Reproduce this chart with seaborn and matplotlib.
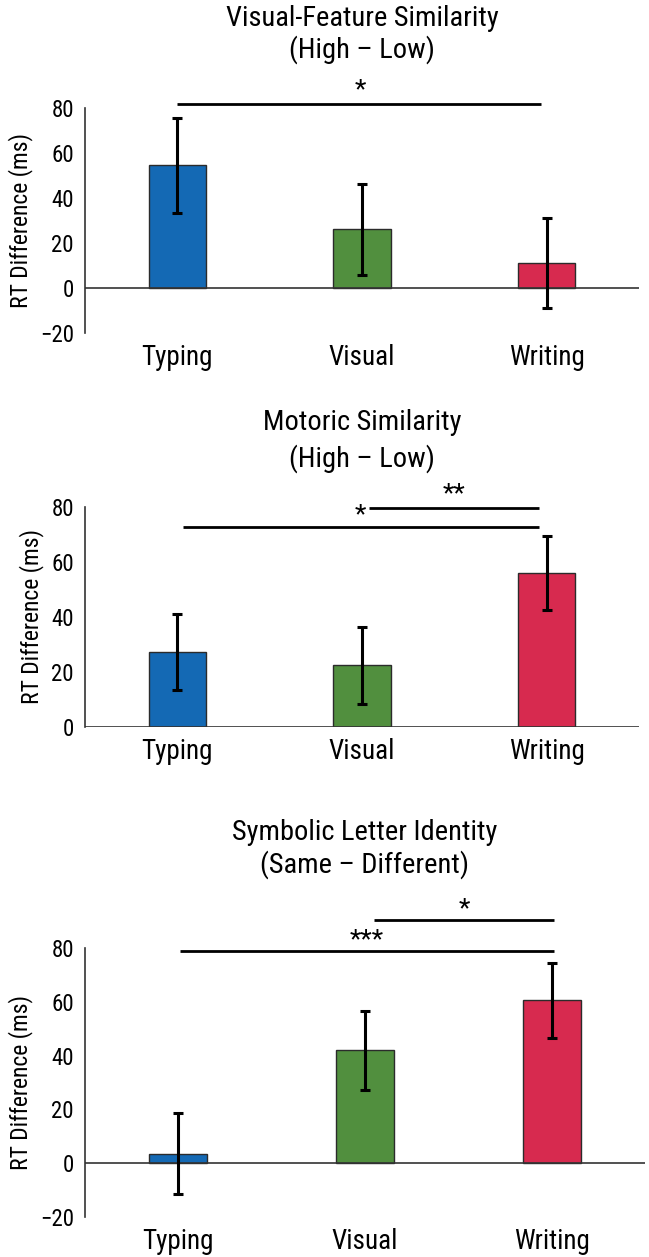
import numpy as np
import pandas as pd
import seaborn as sns
from matplotlib import pyplot as plt

categories = ["Typing", "Visual", "Writing"]
colors = ["#1469B4", "#518F3E", "#D72A4F"]

visual_means = [54.5, 26.1, 11.0]
visual_err = [21.2, 20.3, 20.1]

motor_means = [27.2, 22.4, 56.0]
motor_err = [13.8, 14.0, 13.4]

symbol_means = [3.6, 42.0, 60.5]
symbol_err = [15.0, 14.7, 14.0]

titles = [
    "Visual-Feature Similarity\n(High \u2013 Low)",
    "Motoric Similarity\n(High \u2013 Low)",
    "Symbolic Letter Identity\n(Same \u2013 Different)",
]

# significance brackets: (from, to, height, label, label x, label y)
visual_sig = [(0.0, 1.97, 81.7, "*", 0.99, 88)]
motor_sig = [(1.04, 1.96, 79.8, "**", 1.5, 84.8), (0.03, 1.96, 72.9, "*", 0.99, 77)]
symbol_sig = [(1.05, 2.01, 90.4, "*", 1.53, 94.5), (0.01, 2.01, 78.8, "***", 1.01, 83)]

sns.set_theme(style="white")
plt.rcParams['font.family'] = ['Roboto Condensed', 'Liberation Sans Narrow', 'Liberation Sans', 'DejaVu Sans']
plt.rcParams['text.color'] = 'black'

W, H = 649, 1257
fig = plt.figure(figsize=(W / 100, H / 100), dpi=100)

# (left, right, top, bottom) in pixels, ylim, title centre lines
panels = [
    (visual_means, visual_err, visual_sig, (85, 639, 108, 333), (-20, 80), [-20, 0, 20, 40, 60, 80], (18, 50)),
    (motor_means, motor_err, motor_sig, (85, 639, 507, 727), (0, 80), [0, 20, 40, 60, 80], (423, 459)),
    (symbol_means, symbol_err, symbol_sig, (85, 645, 948, 1217), (-20, 80), [-20, 0, 20, 40, 60, 80], (833, 865)),
]

for i, (means, errs, sigs, box, ylim, yticks, tpos) in enumerate(panels):
    l, r, t, b = box
    ax = fig.add_axes([l / W, 1 - b / H, (r - l) / W, (b - t) / H])
    df = pd.DataFrame({"cond": categories, "rt": means})
    sns.barplot(data=df, x="cond", y="rt", hue="cond", palette=colors, legend=False,
                saturation=1, width=0.31, edgecolor="#2b2b2b", linewidth=1.0, ax=ax)
    ax.errorbar(np.arange(3), means, yerr=errs, fmt="none", ecolor="black",
                elinewidth=2.2, capsize=3.3, capthick=2.2, zorder=5)
    ax.axhline(0, color="#333333", lw=1.2, zorder=1)
    ax.set_xlim(-0.5, 2.5)
    ax.set_ylim(*ylim)
    ax.set_yticks(yticks)
    ax.set_yticklabels([str(v).replace("-", "\u2212") for v in yticks])
    for s in ["top", "right", "bottom"]:
        ax.spines[s].set_visible(False)
    ax.spines["left"].set_color("#333333")
    ax.spines["left"].set_linewidth(1.2)
    ax.tick_params(axis="y", length=0, pad=8, labelsize=16.5, colors="black")
    ax.tick_params(axis="x", length=0, pad=8, labelsize=19.5, colors="black")
    ax.set_xlabel("")
    ax.set_ylabel("RT Difference (ms)", fontsize=17, labelpad=5, color="black")

    for x0, x1, y, lab, lx, ly in sigs:
        ax.plot([x0, x1], [y, y], color="black", lw=2.0, clip_on=False,
                solid_capstyle="butt")
        ax.text(lx, ly, lab, ha="center", va="center", fontsize=19, color="black")

    cx = (l + r) / 2 / W
    line1, line2 = titles[i].split("\n")
    fig.text(cx, 1 - tpos[0] / H, line1, ha="center", va="center", fontsize=20.5)
    fig.text(cx, 1 - tpos[1] / H, line2, ha="center", va="center", fontsize=20.5)

fig.savefig("out.png", dpi=100)
